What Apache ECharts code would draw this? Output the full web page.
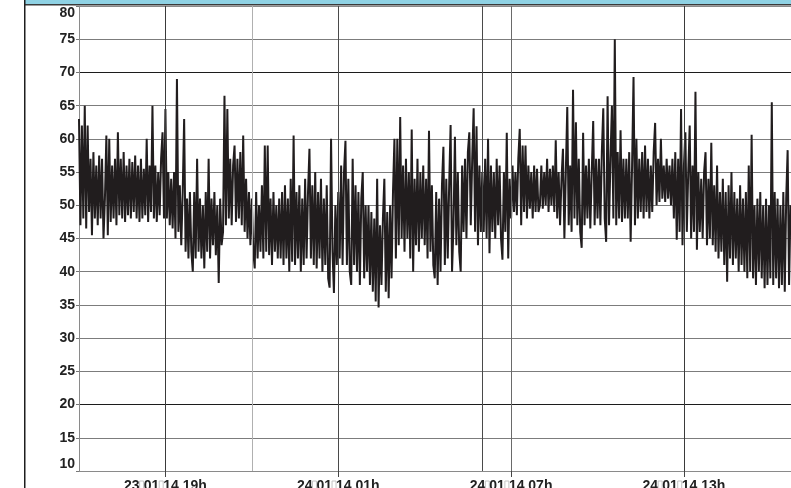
<!DOCTYPE html>
<html>
<head>
<meta charset="utf-8">
<script src="https://cdn.jsdelivr.net/npm/echarts@6/dist/echarts.min.js"></script>
<style>
  html, body { margin: 0; padding: 0; background: #fff; }
  #chart { width: 791px; height: 488px; }
</style>
</head>
<body>
<div id="chart"></div>
<script>
// Noise level (dB) sampled every 3 minutes, starting 23/01/14 16:00.
// One array per hour of recording.
const sampleStepMin = 3;
const h23_16 = [63, 47, 62, 48, 65, 46.5, 62, 49, 57, 45.5, 58, 48, 56, 47, 57.5, 48, 57, 45, 51, 60.5];
const h23_17 = [45.5, 60, 47.5, 56, 48, 57, 47, 61, 48.5, 57, 48, 58, 47.5, 56, 48.5, 57, 48, 56.5, 49, 57.5];
const h23_18 = [48, 56, 47.5, 57, 48, 55.5, 48.5, 60, 47.5, 56, 49, 65, 48, 56, 47.5, 55, 48.5, 57, 61, 48];
const h23_19 = [64.5, 48, 55, 47, 54, 46.5, 55, 45, 69, 46, 53, 44, 52, 63, 43, 51, 42, 52, 43, 40];
const h23_20 = [52, 42, 57, 43, 51, 42, 50, 40.5, 52, 43, 57, 42, 51, 44, 52, 42.5, 50, 38.3, 51, 44];
const h23_21 = [46, 66.5, 47, 64.5, 48, 57, 47, 56, 59, 47.5, 57, 48, 58, 47, 60.5, 46, 54, 45, 52, 44];
const h23_22 = [51, 43, 40.5, 52, 42, 50, 43, 53, 42, 59, 43, 59, 42.5, 51, 41, 52, 43, 50, 42, 51];
const h23_23 = [42, 52, 41, 53, 42, 51, 40, 54, 41.5, 60.5, 41, 52, 42, 53, 40, 51, 41, 54, 42, 52];
const h24_00 = [58.5, 42, 53, 41, 55, 40.5, 52, 42, 54, 40, 51, 41, 53, 39, 37.6, 60, 43, 36.8, 50, 41];
const h24_01 = [52, 42, 56, 41, 55, 59.7, 41, 54, 40, 38, 57, 41, 53, 40, 52, 38, 51, 55, 39, 50];
const h24_02 = [40, 50, 38, 49, 37, 48, 35.5, 54, 34.6, 47, 38, 48, 54, 37, 49, 36, 50, 39, 52, 60];
const h24_03 = [42, 60, 44, 63.3, 45, 56, 43, 57, 45, 55, 42, 61.4, 40, 54, 44, 57, 43, 55, 45, 56];
const h24_04 = [44, 54, 42, 61.2, 43, 53, 41, 39, 52, 38, 51, 40, 53, 58.8, 41, 54, 42, 53, 62.1, 40];
const h24_05 = [47, 60.3, 44, 55, 43, 40, 56, 46, 57, 45, 58, 61, 47, 57, 64.6, 46, 61.9, 44, 56, 46];
const h24_06 = [55, 46, 57, 45, 60, 42.8, 56, 46, 55, 45, 57, 47, 56, 45, 41.8, 55, 46, 60.9, 42, 54];
const h24_07 = [48, 56, 49, 55, 48.5, 57, 61.5, 47, 59, 49, 59, 48, 56, 49.5, 55, 48, 56, 49, 55.5, 49];
const h24_08 = [50, 56, 49.5, 55, 50, 57, 49, 55.5, 50, 56, 49, 59.8, 48, 55, 47, 54, 58.5, 45, 55, 64.8];
const h24_09 = [47, 56, 46, 67.4, 48, 62.5, 47, 57, 46, 43.6, 60.9, 47, 56, 48, 57, 46.5, 55, 62.7, 47, 57];
const h24_10 = [48, 57, 47, 58, 64.6, 48, 44.5, 66.4, 47, 57, 65, 48, 75, 47, 58, 48, 61.3, 47.5, 57, 48];
const h24_11 = [57, 48, 58, 44.5, 56, 69.3, 47, 60, 48, 57, 49, 58, 48, 59, 49, 57, 48, 56, 49, 58];
const h24_12 = [62.4, 50, 57, 50.5, 60, 51, 56, 50.5, 57, 51, 56, 50, 57, 48, 58, 44.8, 57, 46, 64.5, 44];
const h24_13 = [56, 61, 46, 55, 62, 45, 56, 46, 67.1, 43.3, 55, 46, 54, 45, 55, 58, 44, 54, 45, 59.4];
const h24_14 = [44, 53, 43, 56, 42, 52, 43, 54, 41, 52, 38.5, 53, 42, 55, 41, 52, 42, 51, 40, 53];
const h24_15 = [41, 51, 40, 52, 39, 56, 40, 60.6, 39, 50, 38, 51, 40, 52, 39, 50, 37.5, 51, 38, 50];
const h24_16 = [39, 65.5, 38, 52, 39, 51, 37.5, 50, 38, 52, 37, 51, 58.3, 38, 50];

// x axis: minutes elapsed since 23/01/14 16:00
const xMaxMin = 1483;
const xTickMinutes = [180, 540, 900, 1260];
const xTickLabels = ['23/01/14 19h', '24/01/14 01h', '24/01/14 07h', '24/01/14 13h'];
// vertical reference lines and their shades
const vLineMinutes = [180, 360, 540, 840, 900, 1260];
const vLineColors = ['#3a3a3a', '#b0b0b0', '#4a4a4a', '#4a4a4a', '#6a6a6a', '#3a3a3a'];

const hours = [h23_16, h23_17, h23_18, h23_19, h23_20, h23_21, h23_22, h23_23,
  h24_00, h24_01, h24_02, h24_03, h24_04, h24_05, h24_06, h24_07, h24_08,
  h24_09, h24_10, h24_11, h24_12, h24_13, h24_14, h24_15, h24_16];
const levels = [].concat(...hours);
const points = levels.map((v, i) => [i * sampleStepMin, v]);

// y split lines: 20 and 70 dB are drawn darker
const ySplitColors = ['#7c7c7c', '#7c7c7c', '#1c1c1c', '#7c7c7c', '#7c7c7c', '#7c7c7c', '#7c7c7c',
  '#7c7c7c', '#7c7c7c', '#7c7c7c', '#7c7c7c', '#7c7c7c', '#1c1c1c', '#7c7c7c', '#8a8a8a'];

const font = "'Liberation Sans', Arial, sans-serif";

function tickLabel(v) {
  const i = xTickMinutes.indexOf(Math.round(v));
  if (i < 0) return '';
  return xTickLabels[i].split('/').join('{sep| }');
}

const chart = echarts.init(document.getElementById('chart'), null, { renderer: 'canvas' });
chart.setOption({
  animation: false,
  backgroundColor: '#ffffff',
  grid: { left: 79, right: 0, top: 6, bottom: 17, containLabel: false, outerBoundsMode: 'none' },
  xAxis: {
    type: 'value',
    min: 0,
    max: xMaxMin,
    interval: 180,
    axisLine: { show: true, lineStyle: { color: '#8a8a8a', width: 1 } },
    axisTick: { show: true, length: 6, customValues: xTickMinutes, lineStyle: { color: '#444', width: 1 } },
    axisLabel: {
      customValues: xTickMinutes,
      formatter: tickLabel,
      margin: 8,
      color: '#222',
      fontFamily: font,
      fontWeight: 'bold',
      fontSize: 14,
      rich: {
        sep: { width: 4, height: 10, borderColor: '#c4c4c4', borderWidth: 1, padding: [0, 0, 0, 0] }
      }
    },
    splitLine: { show: false }
  },
  yAxis: {
    type: 'value',
    min: 10,
    max: 80,
    interval: 5,
    axisLine: { show: true, lineStyle: { color: '#8a8a8a', width: 1 } },
    axisTick: { show: true, length: 3, lineStyle: { color: '#777' } },
    axisLabel: {
      margin: 4,
      color: '#222',
      fontFamily: font,
      fontWeight: 'bold',
      fontSize: 14,
      verticalAlignMinLabel: 'bottom',
      verticalAlignMaxLabel: 'top'
    },
    splitLine: { show: true, lineStyle: { color: ySplitColors, width: 1 } }
  },
  series: [
    {
      name: 'grid-lines',
      type: 'line',
      data: [],
      z: 1,
      silent: true,
      markLine: {
        silent: true,
        symbol: ['none', 'none'],
        animation: false,
        label: { show: false },
        lineStyle: { type: 'solid', width: 1 },
        data: vLineMinutes.map((m, i) => ({ xAxis: m, lineStyle: { color: vLineColors[i], type: 'solid', width: 1 } }))
      }
    },
    {
      name: 'Niveau',
      type: 'line',
      data: points,
      z: 2,
      showSymbol: false,
      symbol: 'none',
      sampling: null,
      lineStyle: { color: '#211d1e', width: 2, join: 'miter', miterLimit: 4 }
    }
  ],
  graphic: [
    { type: 'rect', left: 25, top: 0, shape: { width: 766, height: 4 }, style: { fill: '#8fd2e4' }, silent: true },
    { type: 'rect', left: 25, top: 4, shape: { width: 766, height: 1.5 }, style: { fill: '#3a3a3a' }, silent: true },
    { type: 'rect', left: 24, top: 0, shape: { width: 1.5, height: 488 }, style: { fill: '#1e1e1e' }, silent: true }
  ]
});
</script>
</body>
</html>
